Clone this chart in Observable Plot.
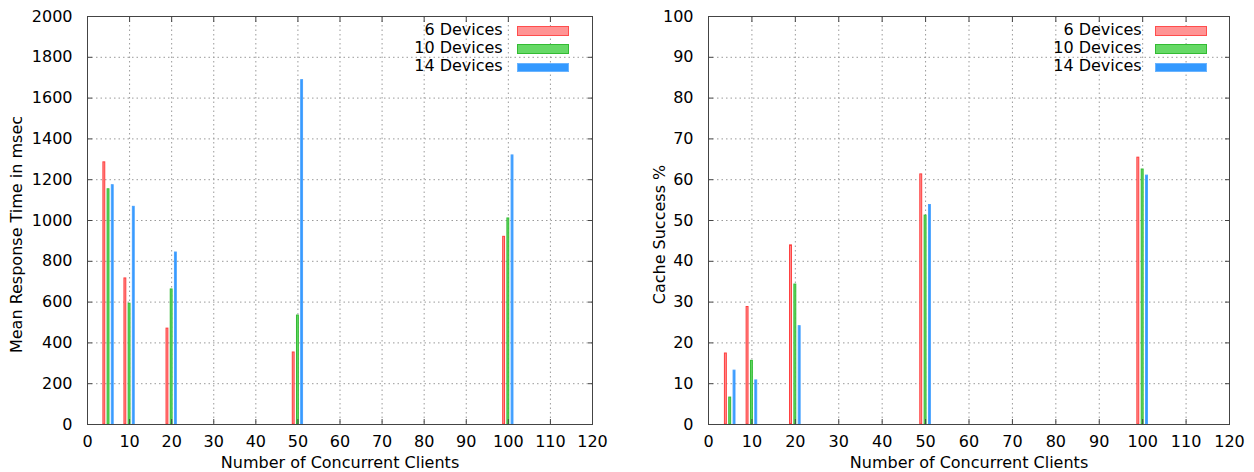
<!DOCTYPE html>
<html>
<head>
<meta charset="utf-8">
<script src="https://cdn.jsdelivr.net/npm/d3@7"></script>
<script src="https://cdn.jsdelivr.net/npm/@observablehq/plot@0.6"></script>
<style>
  body { margin: 0; background: #fff; font-family: "DejaVu Sans", sans-serif; }
  #wrap { display: flex; width: 1254px; height: 472px; }
  .panel { position: relative; width: 627px; height: 472px; }
  .panel svg { display: block; }
  .lg-text { position: absolute; font-size: 16px; line-height: 18px; color: #000; white-space: nowrap; text-align: right; }
  .lg-sw { position: absolute; box-sizing: border-box; border: 1px solid; }
</style>
</head>
<body>
<div id="wrap"></div>
<script>
// ---- data ----
const clients = [5, 10, 20, 50, 100];
const devices = ["6 Devices", "10 Devices", "14 Devices"];
const responseTime6 = [1285, 716, 470, 353, 920];
const responseTime10 = [1153, 592, 662, 534, 1010];
const responseTime14 = [1173, 1067, 843, 1688, 1319];
const cacheSuccess6 = [17.4, 28.8, 43.9, 61.3, 65.4];
const cacheSuccess10 = [6.6, 15.6, 34.3, 51.2, 62.5];
const cacheSuccess14 = [13.2, 10.8, 24.1, 53.8, 61.0];
const xTicks = [0, 10, 20, 30, 40, 50, 60, 70, 80, 90, 100, 110, 120];
const yTicksTime = [0, 200, 400, 600, 800, 1000, 1200, 1400, 1600, 1800, 2000];
const yTicksCache = [0, 10, 20, 30, 40, 50, 60, 70, 80, 90, 100];
const xLabel = "Number of Concurrent Clients";
const yLabelTime = "Mean Response Time in msec";
const yLabelCache = "Cache Success %";

const fills = ["#ff9494", "#66d966", "#3399ff"];
const strokes = ["#ff3c3c", "#33bb33", "#4aa3ff"];
const swatchStroke = ["#ff4d4d", "#33bb33", "#6ab4ff"];

function makePanel(cfg) {
  const rows = [];
  clients.forEach((c, i) => devices.forEach((d, j) => rows.push({clients: c, series: j, device: d, value: cfg.values[j][i]})));
  const W = 627, H = 472;
  const plot = Plot.plot({
    width: W, height: H,
    marginLeft: cfg.marginLeft, marginRight: cfg.marginRight, marginTop: 16, marginBottom: 48,
    style: {fontFamily: "DejaVu Sans", fontSize: "16px", color: "#000", background: "#fff", overflow: "visible"},
    x: {domain: [0, 120], label: null},
    y: {domain: cfg.yDomain, label: null},
    color: {type: "identity"},
    marks: [
      Plot.gridX(xTicks, {stroke: "#9a9a9a", strokeOpacity: 1, strokeDasharray: "1.5,3"}),
      Plot.gridY(cfg.yTicks, {stroke: "#9a9a9a", strokeOpacity: 1, strokeDasharray: "1.5,3"}),
      Plot.rectY(rows, {
        x1: d => d.clients + (d.series - 1) - 0.22,
        x2: d => d.clients + (d.series - 1) + 0.22,
        y1: 0, y2: "value",
        fill: d => fills[d.series], stroke: d => strokes[d.series], strokeWidth: 1
      }),
      Plot.frame({stroke: "#444"}),
      Plot.axisX(xTicks, {anchor: "bottom", tickSize: 0, tickPadding: 11, label: null, fontSize: 16, tickFormat: d => String(d)}),
      Plot.axisX(xTicks, {anchor: "bottom", tickSize: -5, tickFormat: () => "", label: null, stroke: "#444"}),
      Plot.axisX(xTicks, {anchor: "top", tickSize: -5, tickFormat: () => "", label: null, stroke: "#444"}),
      Plot.axisY(cfg.yTicks, {anchor: "left", tickSize: 0, tickPadding: 15, label: null, fontSize: 16, tickFormat: d => String(d)}),
      Plot.axisY(cfg.yTicks, {anchor: "left", tickSize: -5, tickFormat: () => "", label: null, stroke: "#444"}),
      Plot.axisY(cfg.yTicks, {anchor: "right", tickSize: -5, tickFormat: () => "", label: null, stroke: "#444"}),
      Plot.text([xLabel], {text: d => d, frameAnchor: "bottom", dy: 38, lineAnchor: "middle", fontSize: 16}),
      Plot.text([cfg.yLabel], {text: d => d, frameAnchor: "left", rotate: -90, dx: cfg.yLabelDx, dy: 14, lineAnchor: "middle", textAnchor: "middle", fontSize: 16})
    ]
  });
  const panel = document.createElement("div");
  panel.className = "panel";
  panel.appendChild(plot);
  devices.forEach((d, j) => {
    const t = document.createElement("div");
    t.className = "lg-text";
    t.textContent = d;
    t.style.right = (W - cfg.legendTextRight) + "px";
    t.style.top = (20.5 + j * 18.3) + "px";
    panel.appendChild(t);
    const s = document.createElement("div");
    s.className = "lg-sw";
    s.style.left = cfg.swatchLeft + "px";
    s.style.top = (26 + j * 18.3) + "px";
    s.style.width = cfg.swatchWidth + "px";
    s.style.height = "9.5px";
    s.style.background = fills[j];
    s.style.borderColor = swatchStroke[j];
    panel.appendChild(s);
  });
  return panel;
}

const wrap = document.getElementById("wrap");
wrap.appendChild(makePanel({
  values: [responseTime6, responseTime10, responseTime14],
  yDomain: [0, 2000], yTicks: yTicksTime, yLabel: yLabelTime,
  marginLeft: 87, marginRight: 35, yLabelDx: -70.6,
  legendTextRight: 502.7, swatchLeft: 517.3, swatchWidth: 51.5
}));
wrap.appendChild(makePanel({
  values: [cacheSuccess6, cacheSuccess10, cacheSuccess14],
  yDomain: [0, 100], yTicks: yTicksCache, yLabel: yLabelCache,
  marginLeft: 81, marginRight: 25, yLabelDx: -48.6,
  legendTextRight: 514.7, swatchLeft: 528, swatchWidth: 52
}));
</script>
</body>
</html>
